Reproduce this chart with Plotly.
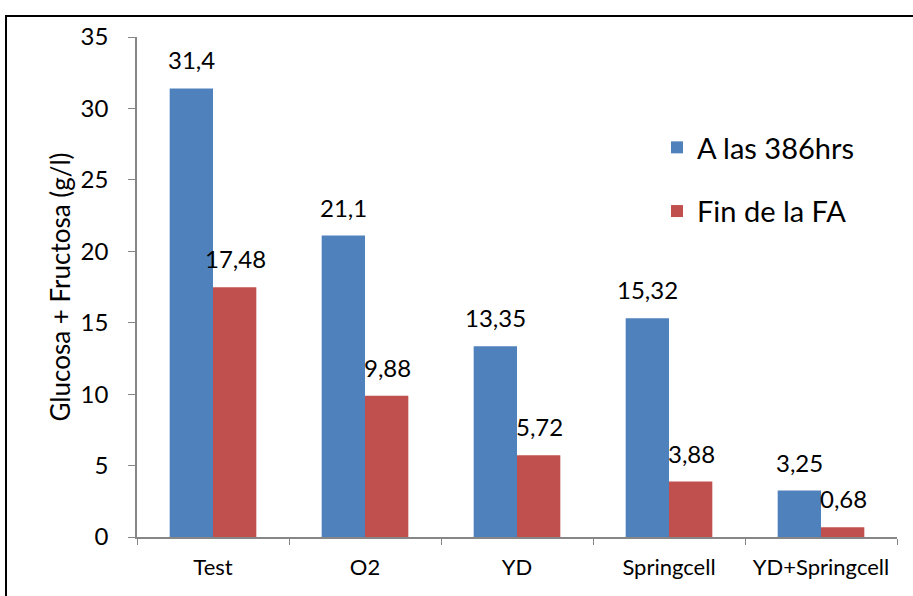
import plotly.graph_objects as go

categories = ["Test", "O2", "YD", "Springcell", "YD+Springcell"]
series_names = ["A las 386hrs", "Fin de la FA"]
values_386 = [31.4, 21.1, 13.35, 15.32, 3.25]
values_fin = [17.48, 9.88, 5.72, 3.88, 0.68]
labels_386 = ["31,4", "21,1", "13,35", "15,32", "3,25"]
labels_fin = ["17,48", "9,88", "5,72", "3,88", "0,68"]
y_ticks = [0, 5, 10, 15, 20, 25, 30, 35]

BLUE = "#4F81BD"
RED = "#C0504D"
FONT = "Lato"

W, H = 913, 596
L, R, T, B = 137, 16, 37, 59
pw = W - L - R
ph = H - T - B

fig = go.Figure()
fig.add_trace(go.Bar(x=categories, y=values_386, name=series_names[0],
                     marker=dict(color=BLUE, line=dict(width=0)), legendgroup="a"))
fig.add_trace(go.Bar(x=categories, y=values_fin, name=series_names[1],
                     marker=dict(color=RED, line=dict(width=0)), legendgroup="b"))

for cat, v, lab in zip(categories, values_386, labels_386):
    fig.add_annotation(x=cat, y=v, text=lab, showarrow=False, xshift=-22,
                       yanchor="bottom", yshift=12, font=dict(size=24, color="black", family=FONT))
for cat, v, lab in zip(categories, values_fin, labels_fin):
    fig.add_annotation(x=cat, y=v, text=lab, showarrow=False, xshift=22,
                       yanchor="bottom", yshift=12, font=dict(size=24, color="black", family=FONT))

# outer border
fig.add_shape(type="rect", xref="paper", yref="paper",
              x0=(6 - L) / pw, x1=(W + 20 - L) / pw,
              y0=1 - (H + 20 - T) / ph, y1=1 + (T - 16) / ph,
              line=dict(color="black", width=2), fillcolor="rgba(0,0,0,0)", layer="below")

fig.update_layout(
    width=W, height=H,
    margin=dict(l=L, r=R, t=T, b=B, autoexpand=False),
    paper_bgcolor="white", plot_bgcolor="white",
    barmode="group", bargap=0.43, bargroupgap=0,
    font=dict(family=FONT, color="black"),
    showlegend=True,
    legend=dict(x=(657 - L) / pw, y=1 - (122 - T) / ph, xanchor="left", yanchor="top",
                font=dict(size=29, family=FONT, color="black"),
                tracegroupgap=23, traceorder="grouped", bgcolor="rgba(0,0,0,0)"),
)
fig.update_xaxes(showline=True, linecolor="#868686", linewidth=1.5,
                 ticks="outside", tickson="boundaries", ticklen=6, tickcolor="#868686",
                 tickfont=dict(size=22, family=FONT, color="black"), showgrid=False,
                 ticklabelstandoff=10)
fig.update_yaxes(range=[0, 35], tickvals=y_ticks, showline=True, linecolor="#868686", linewidth=1.5,
                 ticks="outside", ticklen=7, tickcolor="#868686", showgrid=False, zeroline=False,
                 tickfont=dict(size=24, family=FONT, color="black"), ticklabelstandoff=15,
                 title=dict(text="Glucosa + Fructosa (g/l)", font=dict(size=26, family=FONT, color="black"),
                            standoff=3))

fig.write_html("out.html", config={"displayModeBar": False},
               post_script="document.body.style.margin='0';")
